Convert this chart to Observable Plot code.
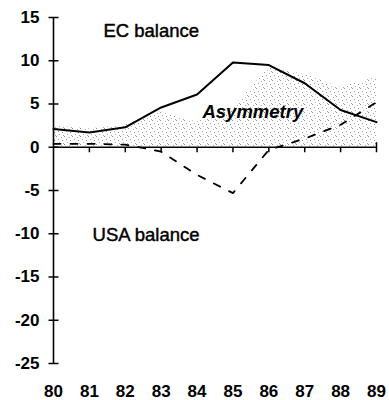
<!DOCTYPE html>
<html>
<head>
<meta charset="utf-8">
<script src="https://cdn.jsdelivr.net/npm/d3@7"></script>
<script src="https://cdn.jsdelivr.net/npm/@observablehq/plot@0.6"></script>
<style>
  html, body { margin: 0; padding: 0; background: #fff; }
  svg { display: block; }
</style>
</head>
<body>
<div id="chart"></div>
<script>
// Years (19xx) on the horizontal axis
const years = [80, 81, 82, 83, 84, 85, 86, 87, 88, 89];
// EC trade balance (solid line)
const ecBalance = [2.1, 1.7, 2.3, 4.6, 6.1, 9.8, 9.5, 7.4, 4.3, 2.9];
// USA trade balance (dashed line)
const usaBalance = [0.4, 0.4, 0.3, -0.5, -3.2, -5.3, -0.3, 1.0, 2.6, 5.2];
// Axis ticks
const yTicks = [15, 10, 5, 0, -5, -10, -15, -20, -25];
const xTicks = years;

const rows = years.map((year, i) => ({
  year,
  ec: ecBalance[i],
  usa: usaBalance[i],
  asym: ecBalance[i] + usaBalance[i]
}));

const font = "'Liberation Sans', Arial, Helvetica, sans-serif";

// Small tick glyphs drawn as symbols so their length is in pixels
const hTick = { draw(ctx) { ctx.moveTo(-5, 0); ctx.lineTo(5, 0); } };
const downTick = { draw(ctx) { ctx.moveTo(0, 0); ctx.lineTo(0, 5); } };
const crossTick = { draw(ctx) { ctx.moveTo(0, -5); ctx.lineTo(0, 5); } };

const chart = Plot.plot({
  width: 389,
  height: 400,
  marginLeft: 53,
  marginRight: 13,
  marginTop: 17,
  marginBottom: 37,
  style: { fontFamily: font, background: "#fff", color: "#000" },
  x: { domain: [80, 89] },
  y: { domain: [-25, 15] },
  marks: [
    // Asymmetry: stippled area of EC + USA balance
    Plot.areaY(rows, { x: "year", y1: 0, y2: "asym", fill: "url(#stipple)" }),
    // axes lines
    Plot.ruleX([80], { y1: -25, y2: 15, stroke: "#000", strokeWidth: 1.6 }),
    Plot.ruleY([0], { x1: 80, x2: 89, stroke: "#000", strokeWidth: 1.6 }),
    // tick marks
    Plot.dot(yTicks, { x: () => 80, y: d => d, symbol: hTick, stroke: "#000", strokeWidth: 1.5, fill: "none" }),
    Plot.dot(xTicks.slice(1, -1), { x: d => d, y: () => 0, symbol: downTick, stroke: "#000", strokeWidth: 1.5, fill: "none" }),
    Plot.dot(xTicks.slice(-1), { x: d => d, y: () => 0, symbol: crossTick, stroke: "#000", strokeWidth: 1.5, fill: "none" }),
    // tick labels
    Plot.axisY(yTicks, {
      tickSize: 0, tickPadding: 14, tickFormat: d => String(d),
      fontSize: 17, fontWeight: "bold", label: null
    }),
    Plot.axisX(xTicks, {
      tickSize: 0, tickPadding: 21, tickFormat: d => String(d),
      fontSize: 17, fontWeight: "bold", label: null
    }),
    // EC balance
    Plot.line(rows, { x: "year", y: "ec", stroke: "#000", strokeWidth: 2 }),
    // USA balance
    Plot.line(rows, { x: "year", y: "usa", stroke: "#000", strokeWidth: 1.8, strokeDasharray: "7,10" }),
    // annotations
    Plot.text(["EC balance"], { x: 81.39, y: 12.7, text: d => d, textAnchor: "start", lineAnchor: "bottom", fontSize: 18.5, fill: "#000", stroke: "#000", strokeWidth: 0.45 }),
    Plot.text(["Asymmetry"], { x: 84.15, y: 3.35, text: d => d, textAnchor: "start", lineAnchor: "bottom", fontSize: 18.5, fontWeight: "bold", fontStyle: "italic", fill: "#000" }),
    Plot.text(["USA balance"], { x: 81.09, y: -10.8, text: d => d, textAnchor: "start", lineAnchor: "bottom", fontSize: 18.5, fill: "#000", stroke: "#000", strokeWidth: 0.45 })
  ]
});

// Sparse dot pattern for the stippled area
const defs = d3.select(chart).insert("defs", ":first-child");
const pat = defs.append("pattern")
  .attr("id", "stipple")
  .attr("patternUnits", "userSpaceOnUse")
  .attr("width", 8)
  .attr("height", 8);
const stippleDots = [[0, 0, "#8a8a8a"], [5, 1, "#b0b0b0"], [2, 3, "#a0a0a0"], [6, 4, "#8f8f8f"], [3, 6, "#b5b5b5"], [7, 7, "#a5a5a5"]];
stippleDots.forEach(([x, y, c]) => {
  pat.append("rect").attr("x", x).attr("y", y).attr("width", 1).attr("height", 1).attr("fill", c);
});

document.getElementById("chart").appendChild(chart);
</script>
</body>
</html>
